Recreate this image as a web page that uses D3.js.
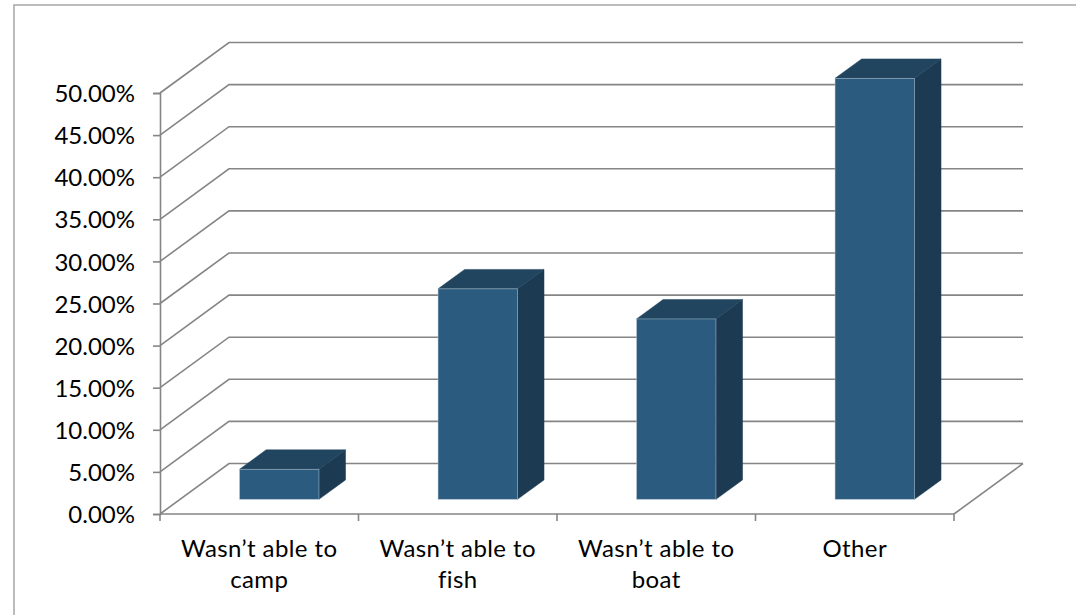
<!DOCTYPE html>
<html>
<head>
<meta charset="utf-8">
<script src="https://cdn.jsdelivr.net/npm/d3@7/dist/d3.min.js"></script>
<style>
  html, body { margin: 0; padding: 0; background: #fff; }
  svg { display: block; }
  text { font-family: Lato, "Noto Sans", sans-serif; fill: #000; }
</style>
</head>
<body>
<svg id="chart" width="1076" height="615"></svg>
<script>
const categories = ["Wasn’t able to camp", "Wasn’t able to fish", "Wasn’t able to boat", "Other"];
const values = [0.0357, 0.25, 0.2143, 0.50];
const tickValues = [0, 0.05, 0.10, 0.15, 0.20, 0.25, 0.30, 0.35, 0.40, 0.45, 0.50];

(function () {
const svg = d3.select("#chart");
const W = 1076, H = 615;

// outer chart border
svg.append("rect").attr("x", 14).attr("y", 5).attr("width", W + 10).attr("height", H + 10)
  .attr("fill", "#fff").attr("stroke", "#a6a6a6").attr("stroke-width", 1.5);

const x0 = 160, x1 = 954, yBase = 514;
const y = d3.scaleLinear().domain([0, 0.5]).range([yBase, 93]);
const x = d3.scaleBand().domain(categories).range([x0, x1]).paddingInner(0.6).paddingOuter(0.3);

const depthX = 69, depthY = -50.5;   // full depth offset of the plot
const gridColor = "#858585";

// gridlines: diagonal on left wall, horizontal on back wall
const g = svg.append("g");
tickValues.forEach(v => {
  const yy = y(v);
  g.append("path")
    .attr("d", `M${x0},${yy} L${x0 + depthX},${yy + depthY} L${x1 + depthX},${yy + depthY}`)
    .attr("fill", "none").attr("stroke", gridColor).attr("stroke-width", 1.6);
});
// floor right edge
g.append("path")
  .attr("d", `M${x1},${yBase} L${x1 + depthX},${yBase + depthY}`)
  .attr("fill", "none").attr("stroke", gridColor).attr("stroke-width", 1.6);

// bars
const f0 = 0.29, fd = 0.385;
const offX = depthX * f0, offY = depthY * f0;
const dX = depthX * fd, dY = depthY * fd;
const frontCol = "#2b5b7e", topCol = "#21445f", sideCol = "#1c3a52", edgeCol = "#b9c9d8";

const bars = svg.append("g");
categories.forEach((c, i) => {
  const bx0 = x(c) + offX, bx1 = x(c) + x.bandwidth() + offX;
  const yb = y(0) + offY, yt = y(values[i]) + offY;
  const gb = bars.append("g");
  gb.append("path")
    .attr("d", `M${bx1},${yb} L${bx1 + dX},${yb + dY} L${bx1 + dX},${yt + dY} L${bx1},${yt} Z`)
    .attr("fill", sideCol).attr("stroke", sideCol).attr("stroke-width", 0.5);
  gb.append("path")
    .attr("d", `M${bx0},${yt} L${bx0 + dX},${yt + dY} L${bx1 + dX},${yt + dY} L${bx1},${yt} Z`)
    .attr("fill", topCol).attr("stroke", topCol).attr("stroke-width", 0.5);
  gb.append("rect")
    .attr("x", bx0).attr("y", yt).attr("width", bx1 - bx0).attr("height", yb - yt)
    .attr("fill", frontCol).attr("stroke", edgeCol).attr("stroke-width", 0.8).attr("stroke-opacity", 0.6);
});

// y axis
const yAxis = d3.axisLeft(y).tickValues(tickValues).tickSize(7).tickPadding(18)
  .tickFormat(d => (d * 100).toFixed(2) + "%");
const ya = svg.append("g").attr("transform", `translate(${x0},0)`).call(yAxis);
ya.select(".domain").attr("stroke", gridColor).attr("stroke-width", 1.6);
ya.selectAll(".tick line").attr("stroke", gridColor).attr("stroke-width", 1.6);
ya.selectAll(".tick text").attr("font-size", "24px").attr("fill", "#000")
  .attr("font-family", "Lato, 'Noto Sans', sans-serif").attr("dy", "0.36em");

// x axis
const xEdges = d3.range(categories.length + 1).map(i => x0 + i * (x1 - x0) / categories.length);
svg.append("line").attr("x1", x0).attr("x2", x1).attr("y1", yBase).attr("y2", yBase)
  .attr("stroke", gridColor).attr("stroke-width", 1.6);
xEdges.forEach(xx => {
  svg.append("line").attr("x1", xx).attr("x2", xx).attr("y1", yBase).attr("y2", yBase + 7)
    .attr("stroke", gridColor).attr("stroke-width", 1.6);
});

// category labels (wrapped)
const prefix = "Wasn’t able to ";
const labelLines = categories.map(c => c.startsWith(prefix) ? [prefix.trim(), c.slice(prefix.length)] : [c]);
categories.forEach((c, i) => {
  const cx = x(c) + x.bandwidth() / 2;
  const t = svg.append("text").attr("text-anchor", "middle").attr("font-size", "24px")
    .attr("letter-spacing", "0.4px");
  labelLines[i].forEach((ln, k) => {
    t.append("tspan").attr("x", cx).attr("y", 557 + k * 31).text(ln);
  });
});
})();
</script>
</body>
</html>
